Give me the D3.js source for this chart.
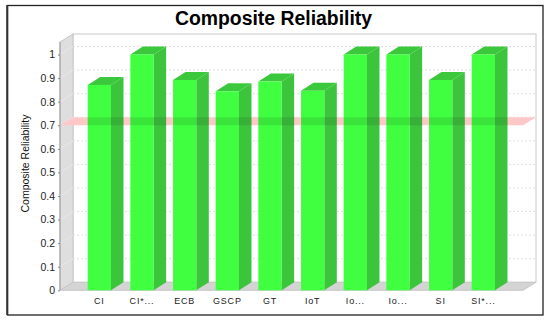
<!DOCTYPE html>
<html>
<head>
<meta charset="utf-8">
<script src="https://cdn.jsdelivr.net/npm/d3@7"></script>
<style>
  html, body { margin: 0; padding: 0; background: #fff; }
  svg { display: block; font-family: "Liberation Sans", sans-serif; }
</style>
</head>
<body>
<div id="chart"></div>
<script>
var categories = ["CI", "CI*...", "ECB", "GSCP", "GT", "IoT", "Io...", "Io...", "SI", "SI*..."];
var reliability = [0.871, 1, 0.892, 0.844, 0.885, 0.846, 1, 1, 0.892, 1];
var yTicks = [0, 0.1, 0.2, 0.3, 0.4, 0.5, 0.6, 0.7, 0.8, 0.9, 1];
var threshold = 0.7;

var width = 550, height = 322;
var depthX = 13, depthY = 8;

var svg = d3.select("#chart").append("svg")
    .attr("width", width)
    .attr("height", height);

var y = d3.scaleLinear().domain([0, 1.053]).range([290.3, 42]);
var x = d3.scaleBand().domain(d3.range(categories.length))
    .range([78, 504.67]).paddingInner(0.454).paddingOuter(0.227);

var plotLeft = 60, plotRight = 523;

// outer frame
svg.append("rect")
    .attr("x", 7.5).attr("y", 5.5)
    .attr("width", 535.5).attr("height", 309.5)
    .attr("fill", "#fff").attr("stroke", "#222").attr("stroke-width", 1.3);
svg.append("line")
    .attr("x1", 7.2).attr("x2", 7.2).attr("y1", 5).attr("y2", 315)
    .attr("stroke", "#333").attr("stroke-width", 2);

svg.append("text")
    .attr("x", 273.5).attr("y", 25)
    .attr("text-anchor", "middle")
    .attr("font-size", 19.4).attr("font-weight", "bold")
    .text("Composite Reliability");

// back wall, left wall, floor
svg.append("rect")
    .attr("x", plotLeft + depthX).attr("y", y(1.053) - depthY)
    .attr("width", plotRight - plotLeft).attr("height", y(0) - y(1.053))
    .attr("fill", "#fff").attr("stroke", "#c8c8c8");
svg.append("path")
    .attr("d", `M${plotLeft},${y(0)}L${plotLeft},${y(1.053)}l${depthX},${-depthY}L${plotLeft + depthX},${y(0) - depthY}Z`)
    .attr("fill", "#dedede").attr("stroke", "#c8c8c8");
svg.append("path")
    .attr("d", `M${plotLeft},${y(0)}l${depthX},${-depthY}H${plotRight + depthX}l${-depthX},${depthY}Z`)
    .attr("fill", "#d4d4d4").attr("stroke", "#c8c8c8");

// grid lines on the back wall and the left wall
var grid = svg.append("g");
yTicks.filter(d => d > 0).forEach(function(d) {
  grid.append("line")
      .attr("x1", plotLeft + depthX).attr("x2", plotRight + depthX)
      .attr("y1", y(d) - depthY).attr("y2", y(d) - depthY)
      .attr("stroke", "#e0e0e0").attr("stroke-dasharray", "2,2");
  grid.append("line")
      .attr("x1", plotLeft).attr("x2", plotLeft + depthX)
      .attr("y1", y(d)).attr("y2", y(d) - depthY)
      .attr("stroke", "#e8e8e8");
});

// threshold band, behind the bars
var bandPath = `M${plotLeft},${y(threshold)}l${depthX},${-depthY}H${plotRight + depthX}l${-depthX},${depthY}Z`;
svg.append("path")
    .attr("d", bandPath)
    .attr("fill", "#ffc8c8");

// bars
var sidePath = (d, i) => `M${x(i) + x.bandwidth()},${y(d)}l${depthX - 0.5},${-depthY}V${y(0) - depthY}l${-depthX + 0.5},${depthY}Z`;
var bars = svg.append("g").selectAll("g")
  .data(reliability)
  .join("g");
bars.append("path")
    .attr("d", sidePath)
    .attr("fill", "#3dc43d");
bars.append("path")
    .attr("d", (d, i) => `M${x(i)},${y(d)}l${depthX - 0.5},${-depthY}h${x.bandwidth()}l${-depthX + 0.5},${depthY}Z`)
    .attr("fill", "#3cc83c");
bars.append("rect")
    .attr("x", (d, i) => x(i))
    .attr("y", d => y(d))
    .attr("width", x.bandwidth())
    .attr("height", d => y(0) - y(d))
    .attr("fill", "#40ff40");

// the band shows through the bars as a darker strip
var clip = svg.append("clipPath").attr("id", "bar-clip");
clip.selectAll("rect").data(reliability).join("rect")
    .attr("x", (d, i) => x(i))
    .attr("y", d => y(d))
    .attr("width", x.bandwidth())
    .attr("height", d => y(0) - y(d));
clip.selectAll("path").data(reliability).join("path")
    .attr("d", sidePath);
svg.append("path")
    .attr("d", bandPath)
    .attr("clip-path", "url(#bar-clip)")
    .attr("fill", "#000")
    .attr("opacity", 0.1);

// y axis
var yAxis = svg.append("g")
    .attr("transform", `translate(${plotLeft},0)`)
    .call(d3.axisLeft(y).tickValues(yTicks).tickFormat(d3.format("~g")).tickSize(2).tickPadding(3));
yAxis.select(".domain").attr("stroke", "#999").attr("d", `M0,${y(1.053)}V${y(0)}`);
yAxis.selectAll(".tick line").attr("stroke", "#888");
yAxis.selectAll(".tick text")
    .attr("font-family", "Liberation Sans")
    .attr("font-size", 10.5).attr("fill", "#222");

// x axis
var xAxis = svg.append("g")
    .attr("transform", `translate(0,${y(0)})`)
    .call(d3.axisBottom(x).tickFormat(i => categories[i]).tickSize(0).tickPadding(7));
xAxis.select(".domain").remove();
xAxis.selectAll(".tick text")
    .attr("font-family", "Liberation Sans")
    .attr("font-size", 9).attr("letter-spacing", 0.8).attr("fill", "#222");

svg.append("text")
    .attr("transform", "translate(29,163.5) rotate(-90)")
    .attr("text-anchor", "middle")
    .attr("font-size", 10.5).attr("fill", "#111")
    .text("Composite Reliability");
</script>
</body>
</html>
